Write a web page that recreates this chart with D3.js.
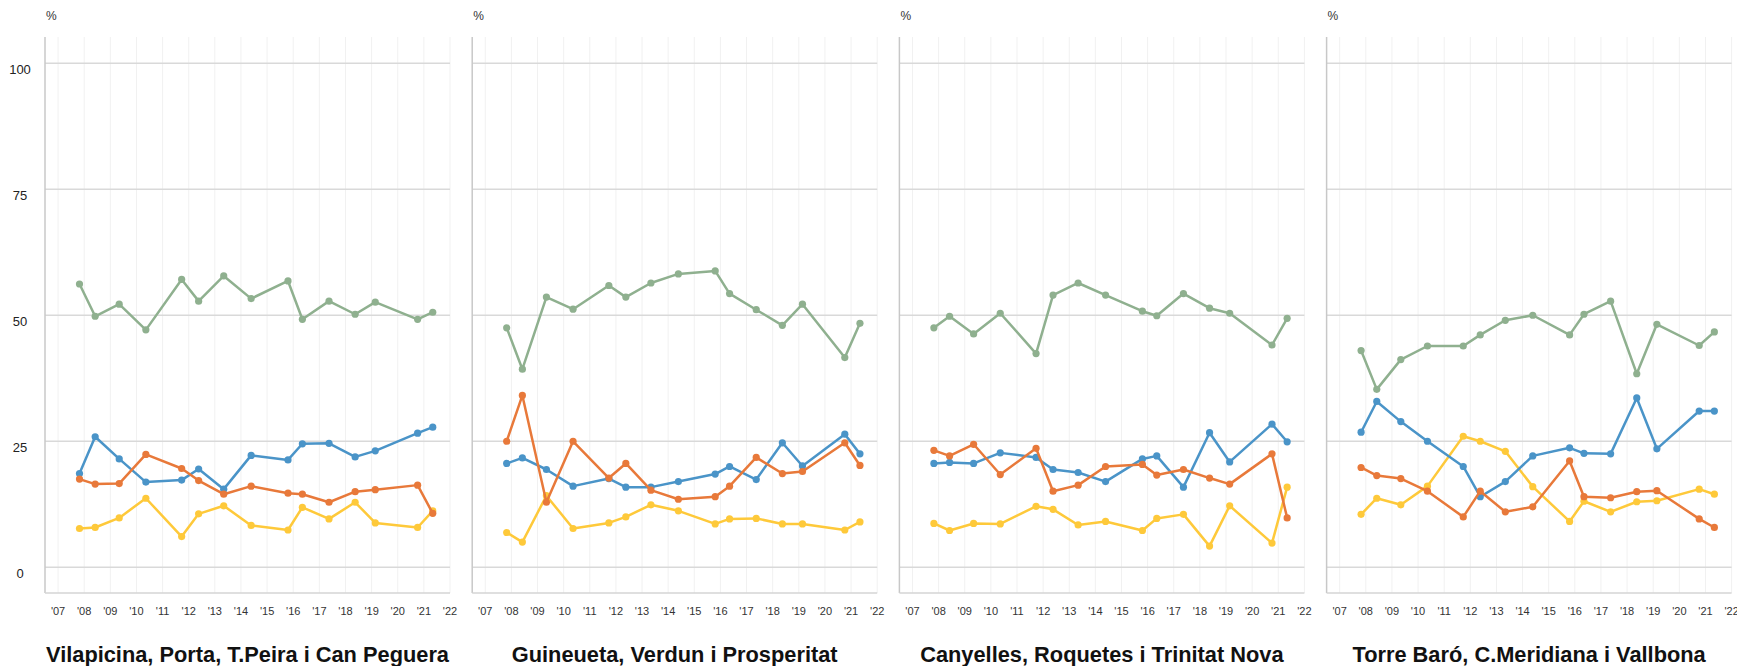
<!DOCTYPE html>
<html>
<head>
<meta charset="utf-8">
<script src="https://cdn.jsdelivr.net/npm/d3@7/dist/d3.min.js"></script>
<style>
  body { margin: 0; background: #fff; }
  text { font-family: "Liberation Sans", Arial, sans-serif; }
</style>
</head>
<body>
<svg id="chart" width="1737" height="666"></svg>
<script>
var districts = ["Vilapicina, Porta, T.Peira i Can Peguera",
                 "Guineueta, Verdun i Prosperitat",
                 "Canyelles, Roquetes i Trinitat Nova",
                 "Torre Baró, C.Meridiana i Vallbona"];

// survey dates as decimal years (same waves for every district)
var surveyDates = [2007.82, 2008.42, 2009.34, 2010.36, 2011.73, 2012.38, 2013.34, 2014.39,
                   2015.80, 2016.35, 2017.37, 2018.37, 2019.14, 2020.76, 2021.34];

var yearTicks = [2007, 2008, 2009, 2010, 2011, 2012, 2013, 2014, 2015, 2016, 2017, 2018, 2019, 2020, 2021, 2022];
var valueTicks = [0, 25, 50, 75, 100];

// one row per district, in the order above
var greenValues = [
  [56.2, 49.8, 52.2, 47.1, 57.1, 52.8, 57.8, 53.3, 56.8, 49.2, 52.8, 50.2, 52.6, 49.2, 50.6],
  [47.5, 39.3, 53.6, 51.2, 55.9, 53.6, 56.4, 58.2, 58.8, 54.3, 51.1, 48.0, 52.2, 41.6, 48.4],
  [47.5, 49.8, 46.3, 50.4, 42.4, 54.0, 56.4, 54.0, 50.8, 49.9, 54.3, 51.4, 50.4, 44.1, 49.4],
  [43.0, 35.3, 41.2, 43.9, 43.9, 46.1, 49.0, 50.0, 46.1, 50.2, 52.8, 38.4, 48.2, 44.0, 46.7]
];
var yellowValues = [
  [7.7, 7.9, 9.8, 13.7, 6.1, 10.6, 12.2, 8.3, 7.4, 11.9, 9.6, 12.9, 8.8, 7.9, 11.2],
  [6.9, 5.0, 14.2, 7.7, 8.8, 10.0, 12.4, 11.2, 8.6, 9.6, 9.7, 8.6, 8.6, 7.4, 9.0],
  [8.7, 7.3, 8.7, 8.6, 12.1, 11.5, 8.4, 9.1, 7.3, 9.7, 10.5, 4.2, 12.2, 4.8, 15.9],
  [10.5, 13.7, 12.4, 16.1, 26.0, 25.0, 23.0, 16.0, 9.1, 13.1, 11.0, 13.0, 13.2, 15.5, 14.5]
];
var blueValues = [
  [18.6, 25.9, 21.5, 16.9, 17.3, 19.5, 15.5, 22.2, 21.3, 24.5, 24.6, 21.9, 23.1, 26.6, 27.8],
  [20.6, 21.7, 19.4, 16.1, 17.6, 15.9, 15.9, 17.0, 18.5, 20.0, 17.4, 24.7, 20.1, 26.4, 22.5],
  [20.6, 20.8, 20.6, 22.7, 21.8, 19.4, 18.8, 17.0, 21.5, 22.1, 15.9, 26.7, 20.9, 28.4, 24.9],
  [26.8, 32.9, 28.9, 25.0, 20.0, 14.0, 17.0, 22.1, 23.7, 22.6, 22.5, 33.6, 23.5, 31.0, 31.0]
];
var orangeValues = [
  [17.5, 16.5, 16.6, 22.4, 19.6, 17.2, 14.5, 16.1, 14.7, 14.5, 12.9, 15.0, 15.4, 16.3, 10.7],
  [25.0, 34.1, 12.9, 25.0, 17.7, 20.6, 15.3, 13.5, 14.0, 16.1, 21.8, 18.6, 19.0, 24.7, 20.2],
  [23.2, 22.1, 24.4, 18.4, 23.6, 15.1, 16.3, 20.0, 20.4, 18.3, 19.4, 17.7, 16.5, 22.5, 9.8],
  [19.8, 18.2, 17.6, 15.1, 10.0, 15.1, 11.0, 12.0, 21.1, 14.0, 13.8, 15.0, 15.2, 9.6, 7.9]
];

var seriesColors = ["#8fb08f", "#fec93a", "#4a94c8", "#e8793a"];

var panelStart = 45;
var panelStep = 427.2;
var plotWidth = 405;
var plotTop = 37;
var plotBottom = 593;

var svg = d3.select("#chart");

var xScale = d3.scaleLinear()
               .domain([2006.5, 2022])
               .range([0, plotWidth]);

var yScale = d3.scaleLinear()
               .domain([-5.1, 105.2])
               .range([plotBottom, plotTop]);

var line = d3.line()
             .x(function(d) { return xScale(d.date); })
             .y(function(d) { return yScale(d.value); });

function DrawPanel(i)
{
  var g = svg.append("g")
             .attr("transform", "translate(" + (panelStart + i * panelStep) + ",0)");

  // light vertical year lines
  g.selectAll(".vgrid")
   .data(yearTicks)
   .enter().append("line")
   .attr("x1", function(d) { return xScale(d); })
   .attr("x2", function(d) { return xScale(d); })
   .attr("y1", plotTop)
   .attr("y2", plotBottom)
   .attr("stroke", "#f1f1f1")
   .attr("stroke-width", 1);

  g.selectAll(".hgrid")
   .data(valueTicks)
   .enter().append("line")
   .attr("x1", 0)
   .attr("x2", plotWidth)
   .attr("y1", function(d) { return yScale(d); })
   .attr("y2", function(d) { return yScale(d); })
   .attr("stroke", "#d9d9d9")
   .attr("stroke-width", 1.5);

  // axis lines
  g.append("line")
   .attr("x1", 0).attr("x2", 0)
   .attr("y1", plotTop).attr("y2", plotBottom)
   .attr("stroke", "#c8c8c8")
   .attr("stroke-width", 1.5);

  g.append("line")
   .attr("x1", 0).attr("x2", plotWidth)
   .attr("y1", plotBottom).attr("y2", plotBottom)
   .attr("stroke", "#d4d4d4")
   .attr("stroke-width", 1.5);

  g.selectAll(".xlabel")
   .data(yearTicks)
   .enter().append("text")
   .attr("x", function(d) { return xScale(d); })
   .attr("y", 615)
   .attr("text-anchor", "middle")
   .attr("font-size", "11px")
   .attr("fill", "#333")
   .text(function(d) { return "'" + String(d).slice(2); });

  g.append("text")
   .attr("x", 1)
   .attr("y", 20)
   .attr("font-size", "12px")
   .attr("fill", "#333")
   .text("%");

  if(i == 0)
  {
    g.selectAll(".ylabel")
     .data(valueTicks)
     .enter().append("text")
     .attr("x", -25)
     .attr("y", function(d) { return yScale(d) + 11; })
     .attr("text-anchor", "middle")
     .attr("font-size", "13px")
     .attr("fill", "#222")
     .text(function(d) { return d; });
  }

  var allSeries = [greenValues[i], yellowValues[i], blueValues[i], orangeValues[i]];

  allSeries.forEach(function(values, s)
  {
    var points = values.map(function(v, k) { return {date: surveyDates[k], value: v}; });

    g.append("path")
     .datum(points)
     .attr("d", line)
     .attr("fill", "none")
     .attr("stroke", seriesColors[s])
     .attr("stroke-width", 2.5)
     .attr("stroke-linejoin", "round");

    g.selectAll(".dot" + s)
     .data(points)
     .enter().append("circle")
     .attr("cx", function(d) { return xScale(d.date); })
     .attr("cy", function(d) { return yScale(d.value); })
     .attr("r", 3.6)
     .attr("fill", seriesColors[s]);
  });

  g.append("text")
   .attr("x", plotWidth / 2)
   .attr("y", 662)
   .attr("text-anchor", "middle")
   .attr("font-size", "21.8px")
   .attr("font-weight", "bold")
   .attr("fill", "#111")
   .text(districts[i]);
}

for(var i = 0; i < districts.length; i++)
{
  DrawPanel(i);
}
</script>
</body>
</html>
